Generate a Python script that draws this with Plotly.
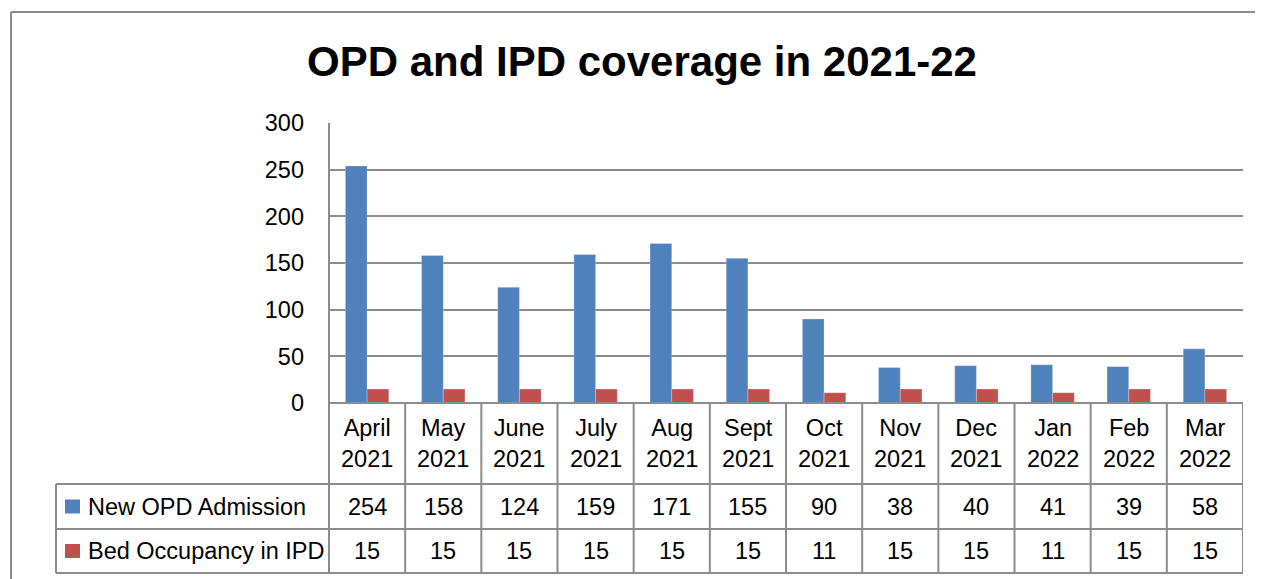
import plotly.graph_objects as go

months = ["April<br>2021", "May<br>2021", "June<br>2021", "July<br>2021", "Aug<br>2021", "Sept<br>2021",
          "Oct<br>2021", "Nov<br>2021", "Dec<br>2021", "Jan<br>2022", "Feb<br>2022", "Mar<br>2022"]
opd = [254, 158, 124, 159, 171, 155, 90, 38, 40, 41, 39, 58]
ipd = [15, 15, 15, 15, 15, 15, 11, 15, 15, 11, 15, 15]
series_names = ["New OPD Admission", "Bed Occupancy in IPD"]
colors = ["#4F81BD", "#C0504D"]
title = "OPD and IPD coverage in 2021-22"

OFF = 8                      # page body margin
W, H = 1263 - OFF, 579 - OFF  # figure size
PL, PR, PT, PB = 329, 1243, 123, 403  # plot area, screen pixels
ROWS = [484, 529, 573]                  # table row boundaries
TBL_LEFT = 56
GRID = "#8C8C8C"
FONT = "Liberation Sans, Arial, sans-serif"

def px(x):
    return (x - OFF) / W

def py(y):
    return 1 - (y - OFF) / H

idx = list(range(len(months)))
fig = go.Figure()
for name, vals, col in zip(series_names, [opd, ipd], colors):
    fig.add_trace(go.Bar(x=idx, y=vals, name=name,
                         marker=dict(color=col, line=dict(color="rgba(255,255,255,0.5)", width=0.5)),
                         showlegend=False))

shapes = []
line = dict(color=GRID, width=2)
shapes.append(dict(type="line", xref="paper", yref="paper", x0=px(11), x1=px(11), y0=0, y1=py(12), line=line))
shapes.append(dict(type="line", xref="paper", yref="paper", x0=px(11), x1=1, y0=py(12), y1=py(12), line=line))
shapes.append(dict(type="line", xref="paper", yref="paper", x0=px(PL), x1=px(PL), y0=py(PT), y1=py(ROWS[2]), line=line))
for i in range(len(months)):
    shapes.append(dict(type="line", xref="x", yref="paper", x0=i + 0.5, x1=i + 0.5, y0=py(PB), y1=py(ROWS[2]), line=line))
shapes.append(dict(type="line", xref="paper", yref="paper", x0=px(PL), x1=px(PR), y0=py(PB), y1=py(PB), line=line))
for r in ROWS:
    shapes.append(dict(type="line", xref="paper", yref="paper", x0=px(TBL_LEFT), x1=px(PR), y0=py(r), y1=py(r), line=line))
shapes.append(dict(type="line", xref="paper", yref="paper", x0=px(TBL_LEFT), x1=px(TBL_LEFT), y0=py(ROWS[0]), y1=py(ROWS[2]), line=line))

annotations = [dict(text=f"<b>{title}</b>", xref="paper", yref="paper", x=px(642), y=py(62), showarrow=False,
                    xanchor="center", yanchor="middle",
                    font=dict(family="Liberation Sans, Arial, sans-serif", size=42, color="black"))]
for i, m in enumerate(months):
    annotations.append(dict(text=m, xref="x", yref="paper", x=i, y=py((PB + ROWS[0]) / 2), showarrow=False,
                            xanchor="center", yanchor="middle", font=dict(family=FONT, size=23.5, color="black")))
for r, (name, vals, col) in enumerate(zip(series_names, [opd, ipd], colors)):
    yc = (ROWS[r] + ROWS[r + 1]) / 2
    shapes.append(dict(type="rect", xref="paper", yref="paper", x0=px(65), x1=px(80), y0=py(yc - 7), y1=py(yc + 7),
                       fillcolor=col, line=dict(width=0)))
    annotations.append(dict(text=name, xref="paper", yref="paper", x=px(86), y=py(yc), showarrow=False,
                            xanchor="left", yanchor="middle", font=dict(family=FONT, size=23.5, color="black")))
    for i, v in enumerate(vals):
        annotations.append(dict(text=str(v), xref="x", yref="paper", x=i, y=py(yc), showarrow=False,
                                xanchor="center", yanchor="middle", font=dict(family=FONT, size=23.5, color="black")))

fig.update_layout(
    template="none",
    width=W, height=H, margin=dict(l=0, r=0, t=0, b=0, pad=0),
    paper_bgcolor="white", plot_bgcolor="white",
    barmode="group", bargap=0.43, bargroupgap=0,
    xaxis=dict(domain=[px(PL), px(PR)], range=[-0.5, len(months) - 0.5], showticklabels=False, automargin=False,
               showgrid=False, zeroline=False, showline=False, ticks="", fixedrange=True),
    yaxis=dict(domain=[py(PB), py(PT)], range=[0, 300], dtick=50, showgrid=True, gridcolor=GRID, gridwidth=2,
               zeroline=False, showline=False, ticks="", ticklabelstandoff=24, automargin=False,
               tickfont=dict(family=FONT, size=23.5, color="black")),
    shapes=shapes, annotations=annotations,
)
fig.write_html("out.html")
